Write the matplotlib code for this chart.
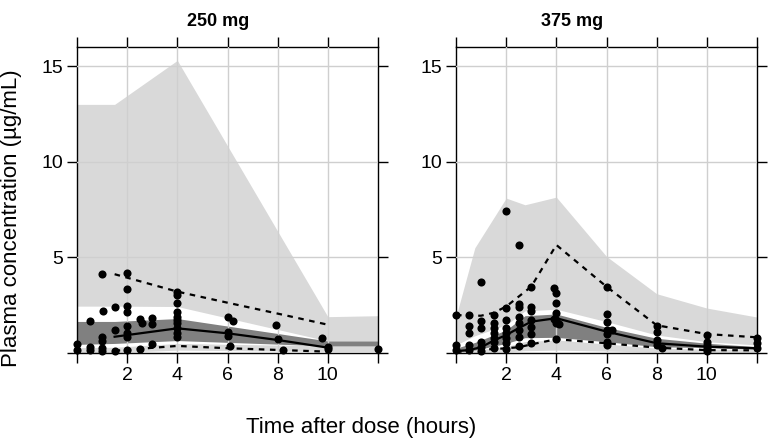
import numpy as np
import matplotlib; matplotlib.use("Agg"); import matplotlib.pyplot as plt

plt.rcParams['font.family'] = ['Liberation Sans', 'DejaVu Sans']

LIGHT = "#d9d9d9"; DARK = "#808080"; GRID = "#cfcfcf"

panels = ["250 mg", "375 mg"]

# ---------- 250 mg: simulated prediction-interval bands ----------
band_x_250 = [0, 1.5, 4, 10, 12]
up_hi_250 = [13.0, 13.0, 15.3, 1.9, 1.95]
up_lo_250 = [2.45, 2.45, 2.43, 0.63, 0.63]
med_hi_250 = [1.65, 1.65, 1.8, 0.63, 0.63]
med_lo_250 = [0.45, 0.5, 0.65, 0.37, 0.37]
low_hi_250 = [0.28, 0.3, 0.5, 0.37, 0.37]
low_lo_250 = [0.0, 0.02, 0.15, 0.08, 0.08]

# observed percentiles
obs_x_250 = [1.5, 4, 6, 8, 10]
p95_250 = [4.12, 3.21, 2.63, 2.06, 1.48]
p50_250 = [0.85, 1.29, 1.03, 0.68, 0.28]
p05_250 = [0.12, 0.37, 0.25, 0.16, 0.07]

# observed concentrations
t_250 = [0, 0, 0.5, 0.5, 0.5,
         1, 1.05, 1, 1, 1, 1,
         1.5, 1.5, 1.5,
         2, 2, 2, 2, 2, 2, 2, 2,
         2.5, 2.58, 2.5,
         3, 3, 3,
         4, 4, 4, 4, 4, 4, 4, 4, 4, 4,
         6, 6.23, 6, 6, 6.1,
         7.93, 8, 8.2,
         9.75, 10, 10,
         12]
c_250 = [0.45, 0.16, 1.67, 0.33, 0.15,
         4.12, 2.22, 0.82, 0.64, 0.25, 0.12,
         2.43, 1.2, 0.12,
         4.2, 3.33, 2.46, 2.16, 1.43, 1.03, 0.82, 0.16,
         1.76, 1.55, 0.22,
         1.85, 1.5, 0.47,
         3.21, 3.04, 2.6, 2.16, 1.9, 1.55, 1.29, 1.06, 0.85, 1.7,
         1.9, 1.67, 1.12, 0.89, 0.37,
         1.47, 0.72, 0.16,
         0.8, 0.33, 0.22,
         0.19]

# ---------- 375 mg ----------
band_x_375 = [0, 0.75, 2, 2.75, 4, 6, 8, 10, 12]
up_hi_375 = [1.9, 5.5, 8.1, 7.75, 8.15, 5.05, 3.1, 2.35, 1.88]
up_lo_375 = [0.42, 0.9, 1.47, 2.2, 2.29, 1.64, 0.94, 0.59, 0.42]
med_hi_375 = [0.25, 0.55, 1.2, 1.95, 2.04, 1.34, 0.77, 0.51, 0.33]
med_lo_375 = [0.05, 0.15, 0.5, 0.8, 0.82, 0.59, 0.33, 0.28, 0.19]
low_hi_375 = [0.1, 0.15, 0.33, 0.6, 0.68, 0.47, 0.25, 0.2, 0.18]
low_lo_375 = [0.0, 0.0, 0.05, 0.12, 0.15, 0.1, 0.05, 0.03, 0.03]

obs_x_375 = [0, 0.5, 1, 1.5, 2, 2.5, 3, 4, 6, 8, 10, 12]
p95_375 = [1.99, 1.95, 1.95, 2.1, 2.43, 2.95, 3.47, 5.65, 3.47, 1.45, 0.99, 0.82]
p50_375 = [0.1, 0.15, 0.3, 0.65, 0.94, 1.3, 1.64, 1.82, 1.12, 0.51, 0.33, 0.25]
p05_375 = [0.05, 0.1, 0.19, 0.2, 0.25, 0.3, 0.45, 0.72, 0.51, 0.28, 0.15, 0.14]

t_375 = [0, 0, 0,
         0.5, 0.5, 0.5, 0.5, 0.5,
         1, 1, 1, 1, 1, 1,
         1.5, 1.5, 1.5, 1.5, 1.5, 1.5, 1.5,
         2, 2, 2, 2, 2, 2, 2, 2,
         2.5, 2.5, 2.5, 2.5, 2.5, 2.5, 2.5, 2.5,
         3, 3, 3, 3, 3, 3, 3,
         3.9, 4, 4, 4, 4, 4, 4.1, 3.9, 4,
         6, 6, 6, 6, 6, 6, 6, 6.2,
         8, 8, 8, 8, 8.2,
         10, 10, 10, 10, 10,
         12, 12, 12]
c_375 = [1.99, 0.42, 0.16,
         1.99, 1.41, 1.06, 0.42, 0.16,
         3.70, 1.69, 1.33, 0.59, 0.33, 0.12,
         1.99, 1.55, 1.3, 1.05, 0.8, 0.55, 0.25,
         7.43, 2.34, 1.73, 1.33, 1.03, 0.77, 0.51, 0.2,
         5.65, 2.56, 2.43, 1.9, 1.55, 1.2, 0.85, 0.36,
         3.44, 2.43, 2.2, 1.73, 1.38, 1.0, 0.51,
         3.39, 3.13, 2.6, 2.08, 1.73, 1.55, 1.5, 1.8, 0.72,
         3.47, 2.06, 1.63, 1.2, 1.0, 0.59, 0.42, 1.2,
         1.41, 1.1, 0.68, 0.42, 0.25,
         0.94, 0.59, 0.42, 0.25, 0.12,
         0.8, 0.51, 0.25]

data = [
    (band_x_250, up_hi_250, up_lo_250, med_hi_250, med_lo_250, low_hi_250, low_lo_250,
     obs_x_250, p95_250, p50_250, p05_250, t_250, c_250),
    (band_x_375, up_hi_375, up_lo_375, med_hi_375, med_lo_375, low_hi_375, low_lo_375,
     obs_x_375, p95_375, p50_375, p05_375, t_375, c_375),
]

W, H = 771, 443
fig = plt.figure(figsize=(W/100, H/100), dpi=100)
lefts = [77, 456]
for i, (left, d) in enumerate(zip(lefts, data)):
    bx, uh, ul, mh, ml, lh, ll, ox, p95, p50, p05, t, c = d
    ax = fig.add_axes([left/W, 1-353/H, 301/W, 306/H])
    ax.fill_between(bx, ul, uh, color=LIGHT, lw=0, zorder=1)
    ax.fill_between(bx, ll, lh, color=LIGHT, lw=0, zorder=1)
    ax.fill_between(bx, ml, mh, color=DARK, lw=0, zorder=2)
    for g in [2, 4, 6, 8, 10]:
        ax.axvline(g, color=GRID, lw=1, zorder=3)
    for g in [5, 10, 15]:
        ax.axhline(g, color=GRID, lw=1, zorder=3)
    ax.plot(ox, p95, color="black", lw=1.6, ls=(0, (2.5, 2.5)), zorder=4)
    ax.plot(ox, p05, color="black", lw=1.6, ls=(0, (2.5, 2.5)), zorder=4)
    ax.plot(ox, p50, color="black", lw=1.6, zorder=4)
    ax.scatter(t, c, s=34, color="black", lw=0, zorder=5, clip_on=False)
    ax.set_xlim(0, 12); ax.set_ylim(0, 16)
    ax.set_xticks([0, 2, 4, 6, 8, 10, 12])
    ax.set_xticklabels(["", "2", "4", "6", "8", "10", ""])
    ax.set_yticks([0, 5, 10, 15])
    ax.set_yticklabels(["", "5", "10", "15"])
    ax.tick_params(direction="out", length=7, width=1, labelsize=14,
                   top=True, right=True, pad=3)
    for sp in ax.spines.values():
        sp.set_linewidth(1)
    fig.text([218, 572][i]/W, 1-22/H, panels[i], ha="center", va="center",
             fontsize=13, fontweight="bold")

fig.text(361/W, 1-428/H, "Time after dose (hours)", ha="center", va="center", fontsize=16)
fig.text(12/W, 1-218/H, "Plasma concentration (µg/mL)", ha="center", va="center",
         rotation=90, fontsize=16)
plt.savefig("out.png", dpi=100)
